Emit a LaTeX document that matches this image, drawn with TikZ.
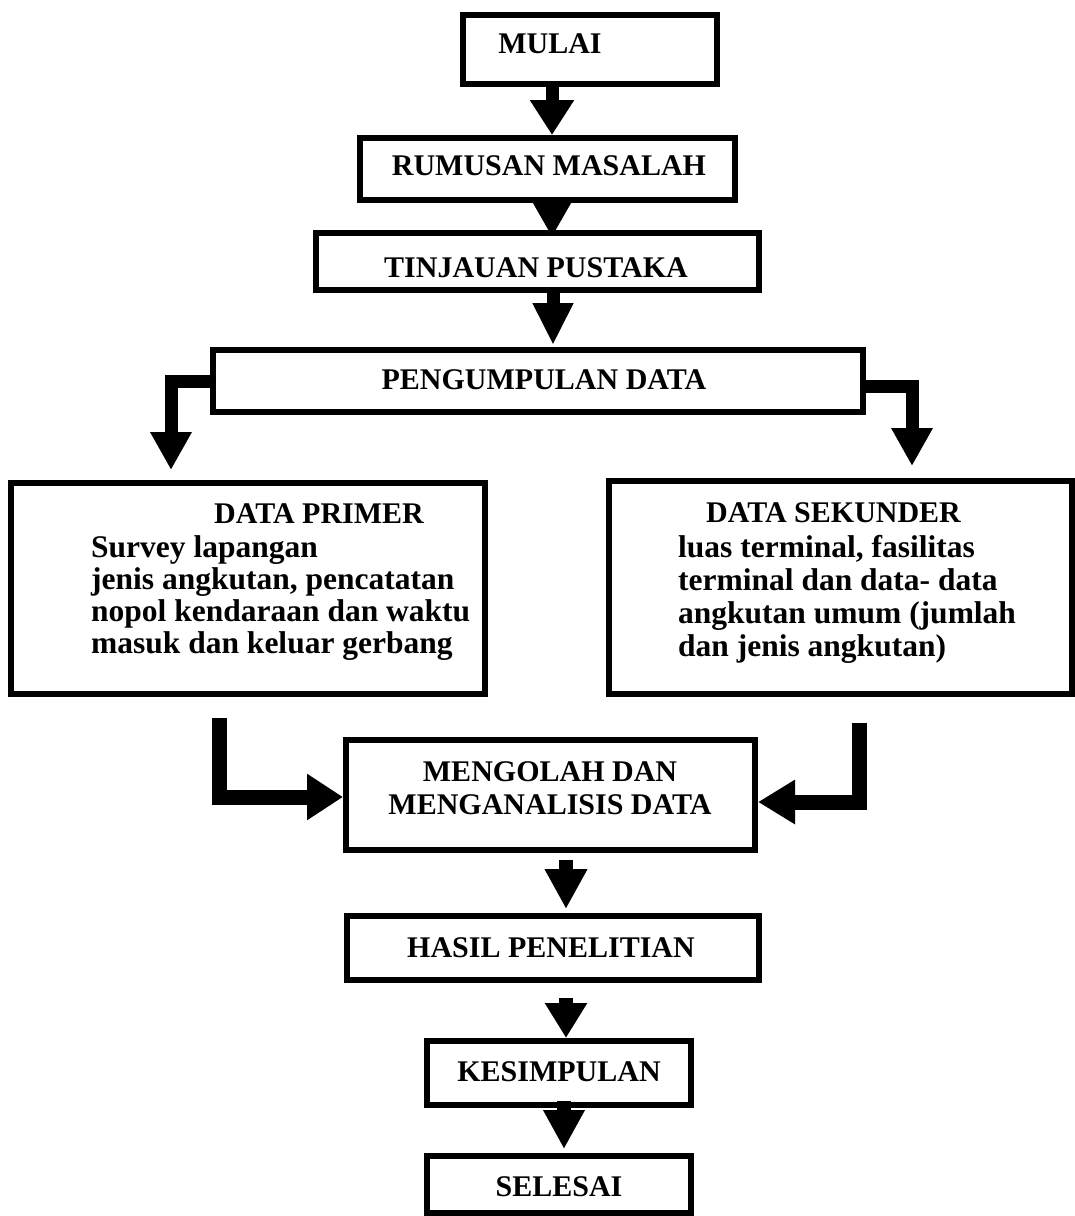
\documentclass[tikz,border=0pt]{standalone}
\usepackage{fontspec}
\setmainfont{Liberation Serif}
\usetikzlibrary{arrows.meta}
\begin{document}
\begin{tikzpicture}[x=1pt,y=-1pt,
  box/.style={draw, line width=6pt, inner sep=0pt},
  hd/.style={font=\fontsize{30}{33}\selectfont\bfseries, inner sep=0pt},
  bd/.style={font=\fontsize{31.5}{33}\selectfont\bfseries, inner sep=0pt, anchor=base west},
  fat/.style={line width=13pt, line join=miter, -{Triangle[length=38pt,width=42pt]}},
  elbow/.style={line width=15pt, line join=miter, -{Triangle[length=36pt,width=44pt]}},
]
\useasboundingbox (0,0) rectangle (1075,1216);
\fill[white] (0,0) rectangle (1075,1216);

% boxes
\node[box, minimum width=254pt, minimum height=69pt] (mulai) at (590,49.5) {};
\node[box, minimum width=375pt, minimum height=62pt] (rumusan) at (547.5,169) {};
\node[box, minimum width=443pt, minimum height=57pt] (tinjauan) at (537.5,261.5) {};
\node[box, minimum width=650pt, minimum height=62pt] (kumpul) at (538,381) {};
\node[box, minimum width=474pt, minimum height=211pt] (primer) at (248,588.5) {};
\node[box, minimum width=463pt, minimum height=213pt] (sekunder) at (840.5,587.5) {};
\node[box, minimum width=409pt, minimum height=110pt] (olah) at (550.5,795) {};
\node[box, minimum width=412pt, minimum height=64pt] (hasil) at (553,948) {};
\node[box, minimum width=264pt, minimum height=64pt] (simpul) at (559,1073) {};
\node[box, minimum width=264pt, minimum height=57pt] (selesai) at (559,1184.5) {};

% texts
\node[hd] (mulai-t) at (550,44) {MULAI};
\node[hd] (rumusan-t) at (549,166) {RUMUSAN MASALAH};
\node[hd] (tinjauan-t) at (536,267.5) {TINJAUAN PUSTAKA};
\node[hd] (kumpul-t) at (544,380) {PENGUMPULAN DATA};
\node[hd, anchor=base west] (primer-h) at (214,523) {DATA PRIMER};
\node[bd] (primer-1) at (91,557) {Survey lapangan};
\node[bd] (primer-2) at (91,589) {jenis angkutan, pencatatan};
\node[bd] (primer-3) at (91,621) {nopol kendaraan dan waktu};
\node[bd] (primer-4) at (91,653) {masuk dan keluar gerbang};
\node[hd, anchor=base west] (sekunder-h) at (706,522) {DATA SEKUNDER};
\node[bd] (sekunder-1) at (678,557) {luas terminal, fasilitas};
\node[bd] (sekunder-2) at (678,590) {terminal dan data- data};
\node[bd] (sekunder-3) at (678,623) {angkutan umum (jumlah};
\node[bd] (sekunder-4) at (678,656) {dan jenis angkutan)};
\node[hd, align=center] (olah-t) at (550,788.5) {MENGOLAH DAN\\MENGANALISIS DATA};
\node[hd] (hasil-t) at (551,947.5) {HASIL PENELITIAN};
\node[hd] (simpul-t) at (559,1072) {KESIMPULAN};
\node[hd] (selesai-t) at (559,1187) {SELESAI};

% helper coordinates
\coordinate (c552) at (552,0);
\coordinate (c553) at (553,0);
\coordinate (c566) at (566,0);
\coordinate (c564) at (564,0);
\coordinate (le) at (171,381);
\coordinate (re) at (912,386);
\coordinate (ls) at (219.5,718);
\coordinate (lc) at (219.5,797);
\coordinate (rs) at (859.5,723);
\coordinate (rc) at (859.5,802);

% straight arrows
\draw[fat, -{Triangle[length=35pt,width=42pt]}] (mulai.south -| c552) -- (rumusan.north -| c552);
\draw[fat, -{Triangle[length=40pt,width=42pt]}, shorten <=-13pt, shorten >=-7pt] (rumusan.south -| c552) -- (tinjauan.north -| c552);
\draw[fat, -{Triangle[length=42pt,width=38pt]}, shorten >=2pt] (tinjauan.south -| c553) -- (kumpul.north -| c553);

% elbows from PENGUMPULAN DATA
\draw[fat, -{Triangle[length=38pt,width=39pt]}, shorten >=10pt] (kumpul.west) -- (le) -- (primer.north -| le);
\draw[fat, -{Triangle[length=38pt,width=39pt]}, shorten >=12pt] (kumpul.east |- re) -- (re) -- (sekunder.north -| re);

% L arrows into MENGOLAH
\draw[elbow] (ls) -- (lc) -- (olah.west |- lc);
\draw[elbow, -{Triangle[length=37pt,width=42pt]}] (rs) -- (rc) -- (olah.east |- rc);

% lower arrows
\draw[fat, line width=14pt, -{Triangle[length=40pt,width=40pt]}, shorten <=7pt, shorten >=4pt] (olah.south -| c566) -- (hasil.north -| c566);
\draw[fat, line width=14pt, -{Triangle[length=35pt,width=40pt]}, shorten <=15pt] (hasil.south -| c566) -- (simpul.north -| c566);
\draw[fat, line width=14pt, -{Triangle[length=39pt,width=39pt]}, shorten <=-7pt, shorten >=4pt] (simpul.south -| c564) -- (selesai.north -| c564);
\end{tikzpicture}
\end{document}
